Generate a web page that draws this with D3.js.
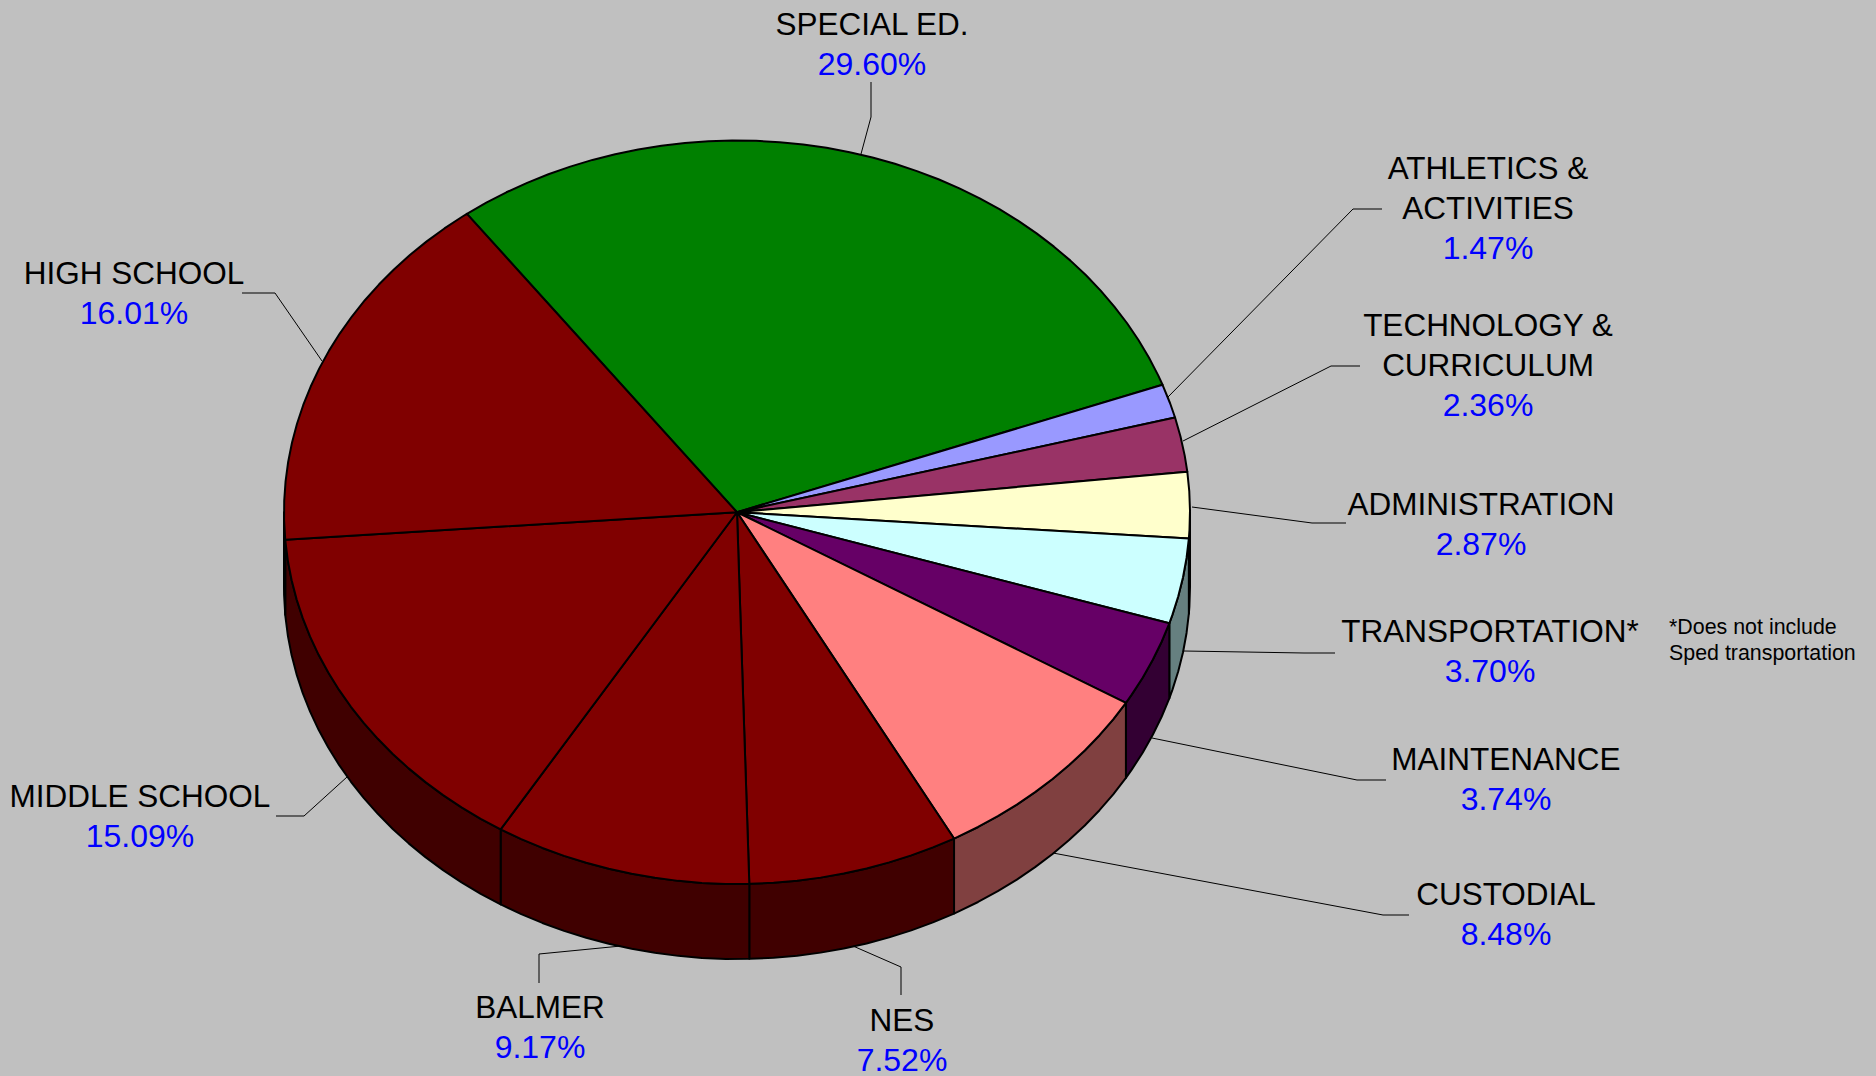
<!DOCTYPE html>
<html>
<head>
<meta charset="utf-8">
<title>Budget pie</title>
<script src="https://cdn.jsdelivr.net/npm/d3@7"></script>
<style>
    body { margin: 0; background: #c0c0c0; }
    svg { display: block; }
    text { font-family: "Liberation Sans", Arial, sans-serif; }
</style>
</head>
<body>
<svg id="chart" width="1876" height="1076"></svg>
<script>
// Chart values, clockwise from the top-left edge of the green slice
const categories = ["SPECIAL ED.", "ATHLETICS & ACTIVITIES", "TECHNOLOGY & CURRICULUM", "ADMINISTRATION",
    "TRANSPORTATION*", "MAINTENANCE", "CUSTODIAL", "NES", "BALMER", "MIDDLE SCHOOL", "HIGH SCHOOL"];
const values = [29.60, 1.47, 2.36, 2.87, 3.70, 3.74, 8.48, 7.52, 9.17, 15.09, 16.01];
const topColors = ["#008000", "#9999ff", "#993366", "#ffffcc", "#ccffff", "#660066", "#ff8080",
    "#800000", "#800000", "#800000", "#800000"];
const sideColors = ["#004000", "#4c4c80", "#4c1a33", "#808066", "#668080", "#330033", "#804040",
    "#400000", "#400000", "#400000", "#400000"];
const footnote = ["*Does not include", "Sped transportation"];

// Where the labels sit: split lines, centre x, first baseline
const labelLines = [["SPECIAL ED."], ["ATHLETICS &", "ACTIVITIES"], ["TECHNOLOGY &", "CURRICULUM"], ["ADMINISTRATION"],
    ["TRANSPORTATION*"], ["MAINTENANCE"], ["CUSTODIAL"], ["NES"], ["BALMER"], ["MIDDLE SCHOOL"], ["HIGH SCHOOL"]];
const labelX = [872, 1488, 1488, 1481, 1490, 1506, 1506, 902, 540, 140, 134];
const labelY = [35, 179, 336, 515, 642, 770, 905, 1031, 1018, 807, 284];

// Leader lines from the pie out to each label
const leaders = [
    [[861, 154], [871, 117], [871, 82]],
    [[1168, 397], [1353, 209], [1382, 209]],
    [[1183, 441], [1331, 366], [1360, 366]],
    [[1192, 507], [1312, 523], [1346, 523]],
    [[1184, 651], [1304, 653], [1335, 653]],
    [[1152, 738], [1357, 780], [1386, 780]],
    [[1053, 853], [1383, 915], [1409, 915]],
    [[853, 946], [901, 967], [901, 995]],
    [[621, 946], [539, 954], [539, 983]],
    [[347, 777], [304, 816], [276, 816]],
    [[322, 361], [275, 293], [242, 293]]
];

const svg = d3.select("#chart");
const depth = 75;
const toRad = Math.PI / 180;

// Unit circle to page, the pie is tilted so it is an ellipse
const x = d3.scaleLinear().domain([-1, 1]).range([284, 1190]);
const y = d3.scaleLinear().domain([-1, 1]).range([140.5, 884]);

const pie = d3.pie().sort(null).startAngle(-36.6 * toRad).endAngle(323.4 * toRad);
const slices = pie(values);

const line = d3.line();
const edgePoint = (a, drop = 0) => [x(Math.sin(a)), y(-Math.cos(a)) + drop];

// Points along the rim, straight short pieces like the original
function rim(a0, a1, drop = 0) {
    const step = 3 * toRad;
    const angles = d3.range(a0, a1, step);
    angles.push(a1);
    return angles.map(a => edgePoint(a, drop));
}

// Side wall, only the front half of the rim shows
const sideGroup = svg.append("g").attr("stroke", "#000").attr("stroke-width", 2).attr("stroke-linejoin", "round");
slices.forEach((d, i) => {
    const a0 = Math.max(d.startAngle, Math.PI / 2);
    const a1 = Math.min(d.endAngle, Math.PI * 1.5);
    if (a1 <= a0) return;
    const pts = rim(a0, a1).concat(rim(a0, a1, depth).reverse());
    sideGroup.append("path")
        .attr("d", line(pts) + "Z")
        .attr("fill", sideColors[i]);
});

// Top of the pie
svg.append("g").attr("stroke", "#000").attr("stroke-width", 2).attr("stroke-linejoin", "round")
    .selectAll("path")
    .data(slices)
    .join("path")
    .attr("fill", (d, i) => topColors[i])
    .attr("d", d => line([[x(0), y(0)]].concat(rim(d.startAngle, d.endAngle))) + "Z");

// Leader lines
svg.append("g").attr("fill", "none").attr("stroke", "#000").attr("stroke-width", 1)
    .selectAll("path")
    .data(leaders)
    .join("path")
    .attr("d", d => line(d));

// Labels
const lineGap = 40;
categories.forEach((c, i) => {
    const lines = labelLines[i];
    lines.forEach((t, j) => {
        svg.append("text")
            .attr("x", labelX[i])
            .attr("y", labelY[i] + j * lineGap)
            .attr("text-anchor", "middle")
            .attr("font-size", 31.5)
            .attr("fill", "#000")
            .text(t);
    });
    svg.append("text")
        .attr("x", labelX[i])
        .attr("y", labelY[i] + lines.length * lineGap - 0.5)
        .attr("text-anchor", "middle")
        .attr("font-size", 32)
        .attr("fill", "#0000ff")
        .text(d3.format(".2f")(values[i]) + "%");
});

// Footnote next to transportation
footnote.forEach((t, j) => {
    svg.append("text")
        .attr("x", 1669)
        .attr("y", 634 + j * 26)
        .attr("font-size", 21.4)
        .attr("fill", "#000")
        .text(t);
});
</script>
</body>
</html>
